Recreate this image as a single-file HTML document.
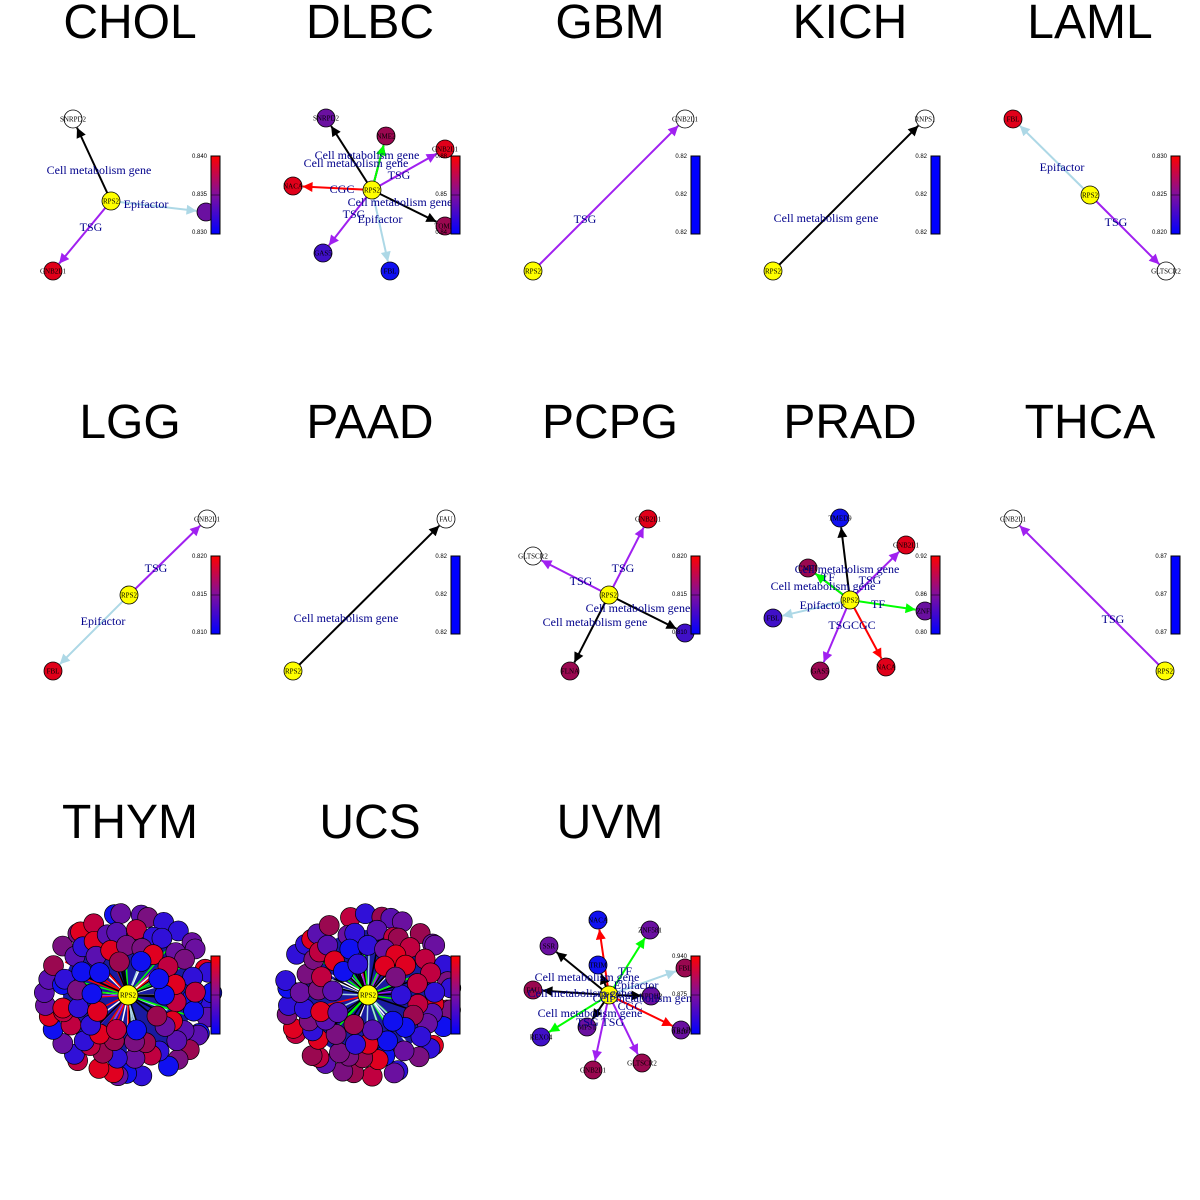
<!DOCTYPE html>
<html><head><meta charset="utf-8"><style>
html,body{margin:0;padding:0;background:#fff;width:1200px;height:1200px;overflow:hidden}
svg text{font-family:"Liberation Serif",serif}
.t{font-family:"Liberation Sans",sans-serif;font-size:48px;text-anchor:middle}
.el{fill:#00008b;font-size:12px;text-anchor:middle}
.nl{fill:#000;font-size:7px;text-anchor:middle}
.bl{font-family:"Liberation Sans",sans-serif;font-size:6px;fill:#000;text-anchor:end}
</style></head><body>
<svg id="s" width="1200" height="1200" xmlns="http://www.w3.org/2000/svg">
<defs>
<linearGradient id="g" x1="0" y1="1" x2="0" y2="0"><stop offset="0" stop-color="#00f"/><stop offset="0.5" stop-color="#7f0f9f"/><stop offset="1" stop-color="#f00"/></linearGradient>
</defs>
<g id="root"></g>
<text class="t" x="130" y="38">CHOL</text><text class="t" x="370" y="38">DLBC</text><text class="t" x="610" y="38">GBM</text><text class="t" x="850" y="38">KICH</text><text class="t" x="1090" y="38">LAML</text>
<text class="t" x="130" y="438">LGG</text><text class="t" x="370" y="438">PAAD</text><text class="t" x="610" y="438">PCPG</text><text class="t" x="850" y="438">PRAD</text><text class="t" x="1090" y="438">THCA</text>
<text class="t" x="130" y="838">THYM</text><text class="t" x="370" y="838">UCS</text><text class="t" x="610" y="838">UVM</text>
</svg>
<script>
var NS="http://www.w3.org/2000/svg",root=document.getElementById('root'),defs=document.querySelector('defs');
var col={k:'#000',p:'#a020f0',b:'#add8e6',r:'#f00',g:'#0f0'};
var mc={};
function mark(c){if(mc[c])return mc[c];var id='m'+Object.keys(mc).length;var m=document.createElementNS(NS,'marker');
m.setAttribute('id',id);m.setAttribute('viewBox','0 0 10 10');m.setAttribute('refX','10');m.setAttribute('refY','5');
m.setAttribute('markerWidth','12');m.setAttribute('markerHeight','10');m.setAttribute('orient','auto');m.setAttribute('markerUnits','userSpaceOnUse');
m.innerHTML='<path d="M0,0L10,5L0,10z" fill="'+c+'"/>';defs.appendChild(m);mc[c]=id;return id;}
function el(t,a,txt){var e=document.createElementNS(NS,t);for(var k in a)e.setAttribute(k,a[k]);if(txt)e.textContent=txt;root.appendChild(e);return e;}
function edge(x1,y1,x2,y2,c){var C=col[c]||c;var dx=x2-x1,dy=y2-y1,L=Math.sqrt(dx*dx+dy*dy),r=9.5;
el('line',{x1:x1,y1:y1,x2:x2-dx/L*r,y2:y2-dy/L*r,stroke:C,'stroke-width':2,'marker-end':'url(#'+mark(C)+')'});}
function node(x,y,f,l,rad){el('circle',{cx:x,cy:y,r:rad||9,fill:f,stroke:'#000','stroke-width':0.8});if(l)el('text',{x:x,y:y+2.5,'class':'nl'},l);}
function lab(x,y,t){el('text',{x:x,y:y+4,'class':'el'},t);}
function bar(x,y,labs,solid){el('rect',{x:x,y:y,width:9,height:78,fill:solid?'#00f':'url(#g)',stroke:'#000','stroke-width':1});
if(!solid)el('line',{x1:x,y1:y+39,x2:x+9,y2:y+39,stroke:'#000','stroke-width':0.5});
for(var i=0;i<3;i++)el('text',{x:x-4,y:y+2+i*38,'class':'bl'},labs[i]);}
var Y='#ff0',W='#fff',R='#e0001a',PR='#9a0850',P='#6a10a0',BP='#4010c8',B='#1010f0';
// CHOL
edge(111,201,73,119,'k');edge(111,201,53,271,'p');edge(111,201,206,212,'b');
node(73,119,W,'SNRPD2');node(53,271,R,'GNB2L1');node(206,212,P,'');node(111,201,Y,'RPS2');
lab(99,170,'Cell metabolism gene');lab(146,204,'Epifactor');lab(91,227,'TSG');bar(211,156,['0.840','0.835','0.830']);
// DLBC
var cx=372,cy=190;
edge(cx,cy,326,118,'k');edge(cx,cy,386,136,'k');edge(cx,cy,386,136,'g');edge(cx,cy,445,149,'p');edge(cx,cy,293,186,'r');
edge(cx,cy,445,226,'k');edge(cx,cy,323,253,'p');edge(cx,cy,390,271,'b');
node(326,118,P,'SNRPD2');node(386,136,PR,'NME2');node(445,149,R,'GNB2L1');node(293,186,R,'NACA');node(445,226,PR,'TOMM');
node(323,253,BP,'GAS5');node(390,271,B,'FBL');node(cx,cy,Y,'RPS2');
lab(367,155,'Cell metabolism gene');lab(356,163,'Cell metabolism gene');lab(399,175,'TSG');lab(342,189,'CGC');
lab(400,202,'Cell metabolism gene');lab(354,214,'TSG');lab(380,219,'Epifactor');bar(451,156,['0.88','0.85','0.84']);
// GBM
edge(533,271,685,119,'p');node(685,119,W,'GNB2L1');node(533,271,Y,'RPS2');lab(585,219,'TSG');bar(691,156,['0.82','0.82','0.82'],1);
// KICH
edge(773,271,925,119,'k');node(925,119,W,'RNPS1');node(773,271,Y,'RPS2');lab(826,218,'Cell metabolism gene');bar(931,156,['0.82','0.82','0.82'],1);
// LAML
edge(1090,195,1013,119,'b');edge(1090,195,1166,271,'p');node(1013,119,R,'FBL');node(1166,271,W,'GLTSCR2');node(1090,195,Y,'RPS2');
lab(1062,167,'Epifactor');lab(1116,222,'TSG');bar(1171,156,['0.830','0.825','0.820']);
// LGG
edge(129,595,207,519,'p');edge(129,595,53,671,'b');node(207,519,W,'GNB2L1');node(53,671,R,'FBL');node(129,595,Y,'RPS2');
lab(156,568,'TSG');lab(103,621,'Epifactor');bar(211,556,['0.820','0.815','0.810']);
// PAAD
edge(293,671,446,519,'k');node(446,519,W,'FAU');node(293,671,Y,'RPS2');lab(346,618,'Cell metabolism gene');bar(451,556,['0.82','0.82','0.82'],1);
// PCPG
edge(609,595,648,519,'p');edge(609,595,533,556,'p');edge(609,595,685,633,'k');edge(609,595,570,671,'k');
node(648,519,R,'GNB2L1');node(533,556,W,'GLTSCR2');node(685,633,BP,'');node(570,671,PR,'FLNA');node(609,595,Y,'RPS2');
lab(623,568,'TSG');lab(581,581,'TSG');lab(638,608,'Cell metabolism gene');lab(595,622,'Cell metabolism gene');bar(691,556,['0.820','0.815','0.810']);
// PRAD
cx=850;cy=600;
edge(cx,cy,840,518,'k');edge(cx,cy,906,545,'p');edge(cx,cy,808,568,'k');edge(cx,cy,808,568,'g');edge(cx,cy,773,618,'b');
edge(cx,cy,925,611,'g');edge(cx,cy,820,671,'p');edge(cx,cy,886,667,'r');
node(840,518,B,'TMED9');node(906,545,R,'GNB2L1');node(808,568,PR,'CMET');node(773,618,BP,'FBL');node(925,611,P,'ZNF5');
node(820,671,PR,'GAS5');node(886,667,R,'NACA');node(cx,cy,Y,'RPS2');
lab(847,569,'Cell metabolism gene');lab(823,586,'Cell metabolism gene');lab(828,577,'TF');lab(870,580,'TSG');
lab(822,605,'Epifactor');lab(878,604,'TF');lab(852,625,'TSGCGC');bar(931,556,['0.92','0.86','0.80']);
// THCA
edge(1165,671,1013,519,'p');node(1013,519,W,'GNB2L1');node(1165,671,Y,'RPS2');lab(1113,619,'TSG');bar(1171,556,['0.87','0.87','0.87'],1);
// balls
var seed=7;function rnd(){seed=(seed*16807)%2147483647;return seed/2147483647;}
var pal=['#e00020','#c00040','#9a0850','#7a1080','#5a10b0','#3010d8','#1010f0','#6a10a0'];
function ball(cx,cy){
 el('circle',{cx:cx,cy:cy,r:65,fill:'#1a1aa0'});
 for(var i=0;i<60;i++){var a=rnd()*6.283,rr=30+rnd()*45;var c=['#000','#000','#fff','#add8e6','#0f0','#a020f0','#f00'][Math.floor(rnd()*7)];
  el('line',{x1:cx,y1:cy,x2:cx+Math.cos(a)*rr,y2:cy+Math.sin(a)*rr,stroke:c,'stroke-width':1.5});}
 var rings=[[80,36],[64,28],[48,18],[33,10]];
 rings.forEach(function(q){for(var i=0;i<q[1];i++){var a=i/q[1]*6.283+rnd()*0.2;var rr=q[0]+rnd()*4;
  el('circle',{cx:cx+Math.cos(a)*rr,cy:cy+Math.sin(a)*rr*0.98,r:10,fill:pal[Math.floor(rnd()*pal.length)],stroke:'#000','stroke-width':0.7});}});
 node(cx,cy,Y,'RPS2',10);
}
ball(128,995);bar(211,956,['','','']);
ball(368,995);bar(451,956,['','','']);
// UVM
cx=609;cy=995;
var uv=[[598,920,'r',B,'NACA'],[650,930,'g',P,'ZNF581'],[549,946,'k',P,'SSR'],[533,990,'k',PR,'FAU'],[598,965,'k',B,'TRIM'],[685,968,'b',PR,'FBL'],
[651,996,'k',P,'NPDH2'],[541,1037,'g',BP,'REXO4'],[587,1027,'k',P,'MPST'],[681,1030,'r',P,'TRAP'],[593,1070,'p',PR,'GNB2L1'],[642,1063,'p',PR,'GLTSCR2']];
uv.forEach(function(n){edge(cx,cy,n[0],n[1],n[2]);});uv.forEach(function(n){node(n[0],n[1],n[3],n[4]);});
node(cx,cy,Y,'RPS2');
lab(587,977,'Cell metabolism gene');lab(580,993,'Cell metabolism gene');lab(625,971,'TF');lab(636,985,'Epifactor');
lab(645,998,'Cell metabolism gene');lab(590,1013,'Cell metabolism gene');lab(600,1022,'TSG TSG');lab(630,1006,'CGC');
bar(691,956,['0.940','0.875','0.810']);
</script>
</body></html>
